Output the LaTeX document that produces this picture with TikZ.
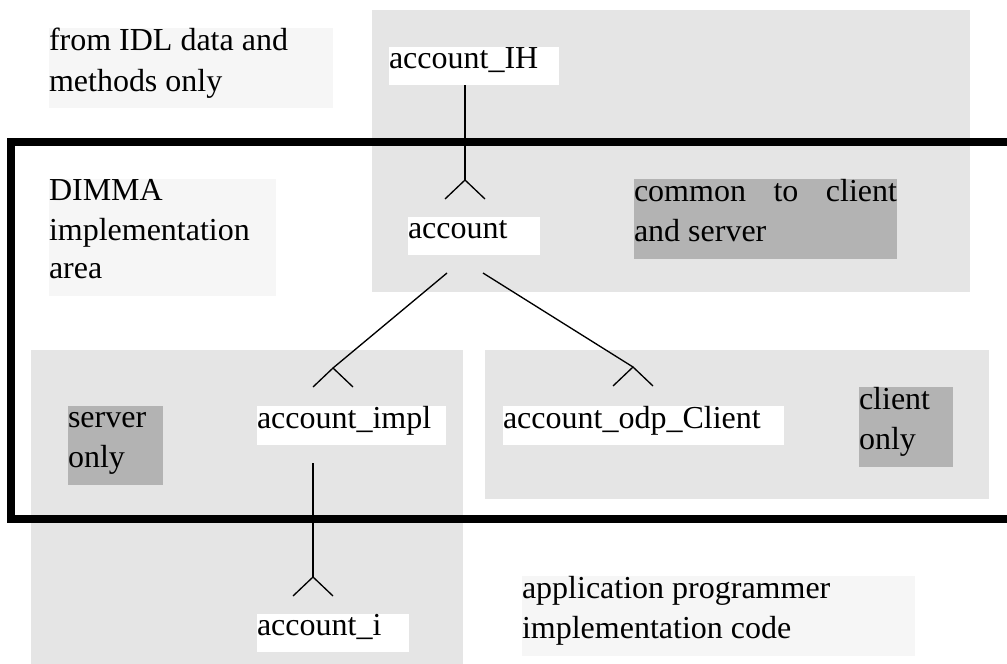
\documentclass[tikz,border=0pt]{standalone}
\usepackage{fontspec}
\setmainfont{Liberation Serif}
\definecolor{regiongray}{HTML}{E5E5E5}
\definecolor{lightbox}{HTML}{F6F6F6}
\definecolor{darkbox}{HTML}{B3B3B3}
\newcommand\mystrut{\rule[-12.75pt]{0pt}{28.5pt}}
\tikzset{
  lbl/.style={anchor=north west, inner sep=0pt, outer sep=0pt, align=flush left,
    font=\fontsize{24pt}{28.5pt}\selectfont},
  whitelbl/.style={lbl, fill=white},
  lightlbl/.style={lbl, fill=lightbox},
  darklbl/.style={lbl, fill=darkbox},
  conn/.style={line width=1pt, black},
  crowfoot/.pic={\draw[conn] (-20,19) -- (0,0) -- (20,19);}
}
\begin{document}
\begin{tikzpicture}[x=0.75pt, y=-0.75pt]
\useasboundingbox (0,0) rectangle (1007,664);
% regions
\fill[regiongray] (372,10) rectangle (970,292);
\fill[regiongray] (31,350) rectangle (463,664);
\fill[regiongray] (485,350) rectangle (989,499);
% DIMMA implementation area frame
\draw[line width=6pt] (1015,141.5) -- (11,141.5) -- (11,519) -- (1015,519);
% labels
\node[lightlbl, text width=213pt] (from) at (49,28) {\mystrut from IDL data and\\\mystrut methods only};
\node[lightlbl, text width=170.25pt] (dimma) at (49,179) {\mystrut DIMMA\\\mystrut implementation\\\mystrut area};
\node[darklbl, text width=197.25pt] (common) at (634,179) {\mystrut common\hfill to\hfill client\\\mystrut and server};
\node[darklbl, text width=71.25pt] (server) at (68,406) {\mystrut server\\\mystrut only};
\node[darklbl, text width=70.5pt] (client) at (859,387) {\mystrut client\\\mystrut only};
\node[lightlbl, text width=294.75pt] (app) at (522,576) {\mystrut application programmer\\\mystrut implementation code};
% class nodes
\node[whitelbl, text width=127.5pt] (ih) at (389,47) {\mystrut account\_IH};
\node[whitelbl, text width=99pt] (acc) at (408,217) {\mystrut account};
\node[whitelbl, text width=141.75pt] (impl) at (257,406) {\mystrut account\_impl};
\node[whitelbl, text width=210.75pt] (odp) at (503,406) {\mystrut account\_odp\_Client};
\node[whitelbl, text width=114pt] (ai) at (257,614) {\mystrut account\_i};
% connector end points
\coordinate (t1) at (465,180);
\coordinate (s2) at (447,273);
\coordinate (t2) at (333,368);
\coordinate (s3) at (483,273);
\coordinate (t3) at (633,367);
\coordinate (t4) at (313,577);
% connectors
\draw[conn] (ih.south -| t1) -- (t1);
\pic at (t1) {crowfoot};
\draw[conn] (s2) -- (t2);
\pic at (t2) {crowfoot};
\draw[conn] (s3) -- (t3);
\pic at (t3) {crowfoot};
\draw[conn] ([yshift=-13.5pt]impl.south -| t4) -- (t4);
\pic at (t4) {crowfoot};
\end{tikzpicture}
\end{document}
